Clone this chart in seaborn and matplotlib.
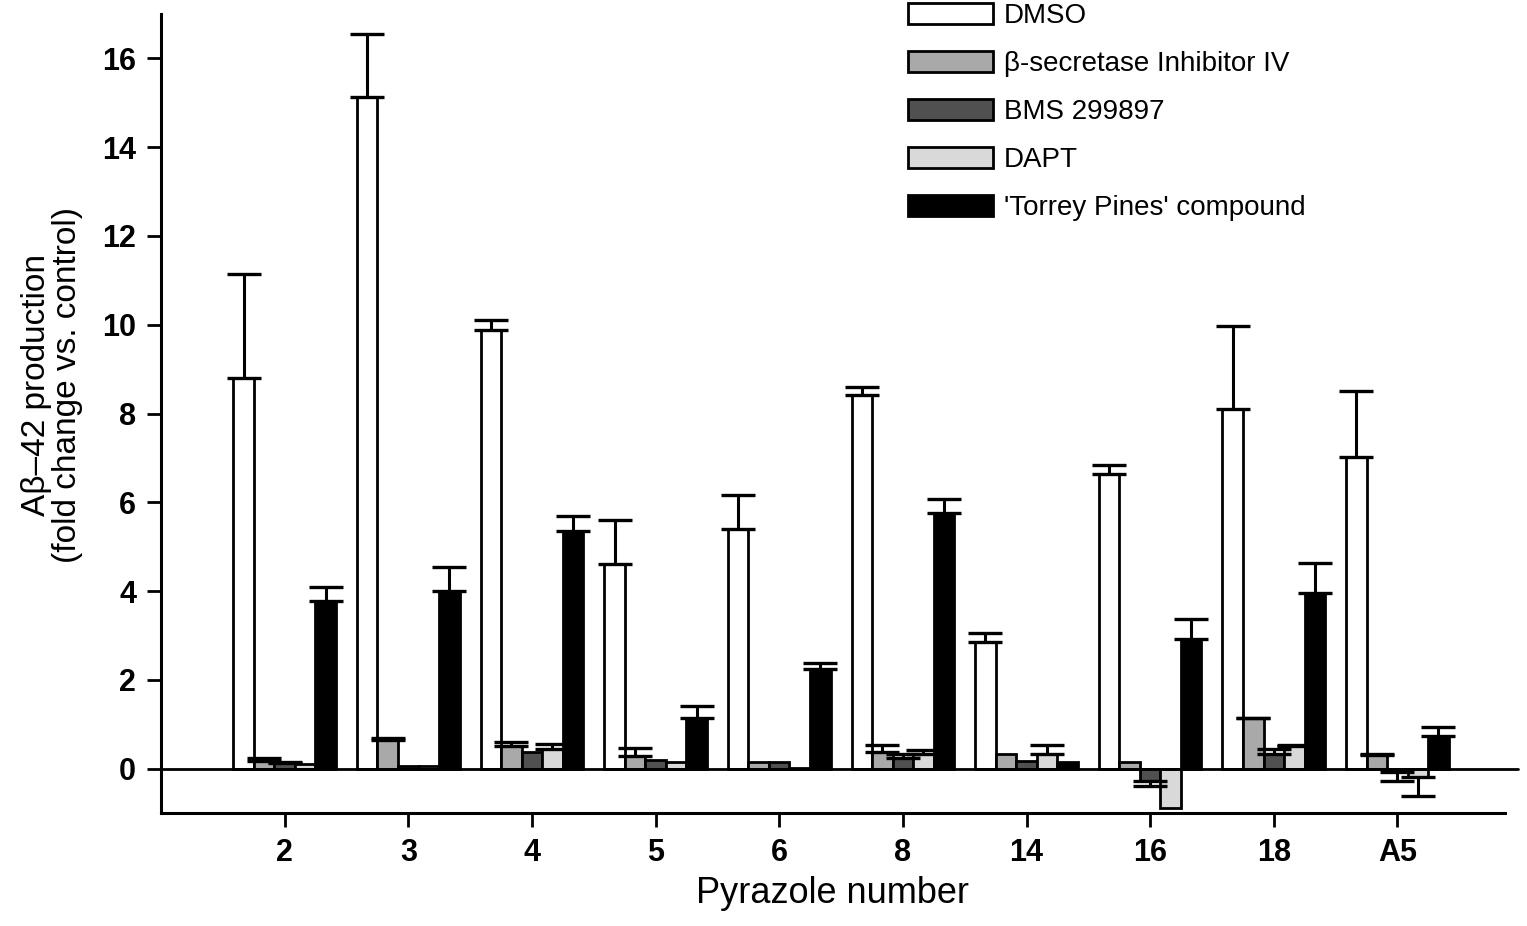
import numpy as np
import pandas as pd
import matplotlib
matplotlib.use("Agg")
import matplotlib.pyplot as plt
import seaborn as sns

# ------------------ data ------------------
groups = ["2", "3", "4", "5", "6", "8", "14", "16", "18", "A5"]
series = ["DMSO", "β-secretase Inhibitor IV", "BMS 299897", "DAPT", "'Torrey Pines' compound"]

dmso = [8.81, 15.14, 9.87, 4.62, 5.39, 8.41, 2.85, 6.63, 8.11, 7.03]
dmso_err = [2.34, 1.40, 0.23, 0.99, 0.78, 0.18, 0.20, 0.22, 1.85, 1.47]
bsec = [0.18, 0.65, 0.50, 0.29, 0.16, 0.37, 0.32, 0.15, 1.13, 0.30]
bsec_err = [0.05, 0.03, 0.09, 0.17, 0.0, 0.17, 0.0, 0.0, 0.02, 0.03]
bms = [0.12, 0.05, 0.37, 0.20, 0.15, 0.25, 0.18, -0.29, 0.33, -0.08]
bms_err = [0.04, 0.0, 0.0, 0.0, 0.0, 0.08, 0.0, 0.11, 0.11, 0.19]
dapt = [0.10, 0.05, 0.45, 0.16, 0.02, 0.33, 0.33, -0.88, 0.52, -0.20]
dapt_err = [0.0, 0.0, 0.10, 0.0, 0.0, 0.10, 0.21, 0.0, 0.02, 0.41]
torrey = [3.77, 4.01, 5.36, 1.13, 2.25, 5.75, 0.16, 2.92, 3.96, 0.74]
torrey_err = [0.32, 0.53, 0.32, 0.28, 0.14, 0.33, 0.0, 0.45, 0.67, 0.19]

values = [dmso, bsec, bms, dapt, torrey]
errors = [dmso_err, bsec_err, bms_err, dapt_err, torrey_err]
colors = ["#ffffff", "#a9a9a9", "#505050", "#d9d9d9", "#000000"]

rows = []
for s, vals in zip(series, values):
    for g, v in zip(groups, vals):
        rows.append({"Pyrazole": g, "Treatment": s, "value": v})
df = pd.DataFrame(rows)

# ------------------ plot ------------------
sns.set_style("ticks")
plt.rcParams["font.family"] = ["Liberation Sans", "DejaVu Sans"]
for k in ["text.color", "axes.labelcolor", "xtick.color", "ytick.color", "axes.edgecolor"]:
    plt.rcParams[k] = "black"

fig = plt.figure(figsize=(15.27, 9.26), dpi=100)
ax = fig.add_axes([161 / 1527, 113 / 926, 1344 / 1527, 799 / 926])

sns.barplot(data=df, x="Pyrazole", y="value", hue="Treatment", order=groups,
            hue_order=series, palette=colors, width=0.83, errorbar=None,
            edgecolor="black", linewidth=2.0, saturation=1, ax=ax)

# error bars (one-sided, away from zero)
for cont, errs in zip(ax.containers, errors):
    for bar, e in zip(cont, errs):
        if e <= 0:
            continue
        x = bar.get_x() + bar.get_width() / 2
        top = max(bar.get_y(), bar.get_y() + bar.get_height())
        low = min(bar.get_y(), bar.get_y() + bar.get_height())
        if top > 0:
            ax.errorbar(x, top, yerr=[[0], [e]], fmt="none", ecolor="black",
                        elinewidth=2.2, capsize=12, capthick=2.4, zorder=3)
        else:
            ax.errorbar(x, low, yerr=[[e], [0]], fmt="none", ecolor="black",
                        elinewidth=2.2, capsize=12, capthick=2.4, zorder=3)

ax.axhline(0, xmin=0, xmax=1.0097, color="black", lw=2, clip_on=False, zorder=4)

ax.set_ylim(-1.0, 17.0)
ax.set_xlim(-1.0, 9.87)
ax.set_yticks(range(0, 17, 2))
sns.despine(ax=ax)
for sp in ["left", "bottom"]:
    ax.spines[sp].set_linewidth(2.2)
ax.tick_params(axis="both", width=2, length=10, labelsize=22, pad=8)
for lab in ax.get_xticklabels() + ax.get_yticklabels():
    lab.set_fontweight("bold")

ax.set_xlabel("Pyrazole number", fontsize=26, labelpad=6)
ax.set_ylabel("Aβ–42 production\n(fold change vs. control)", fontsize=24, linespacing=1.0)
ax.yaxis.set_label_coords(-0.058, 0.536)

leg = ax.legend(loc="upper left", bbox_to_anchor=(908 / 1527, 1.0 - 3 / 926),
                bbox_transform=fig.transFigure, frameon=False, fontsize=20,
                handlelength=3.05, handleheight=0.8, labelspacing=0.78,
                handletextpad=0.4, borderpad=0, borderaxespad=0)
for p in leg.get_patches():
    p.set_edgecolor("black")
    p.set_linewidth(2.0)

fig.savefig("out.png", dpi=100)
